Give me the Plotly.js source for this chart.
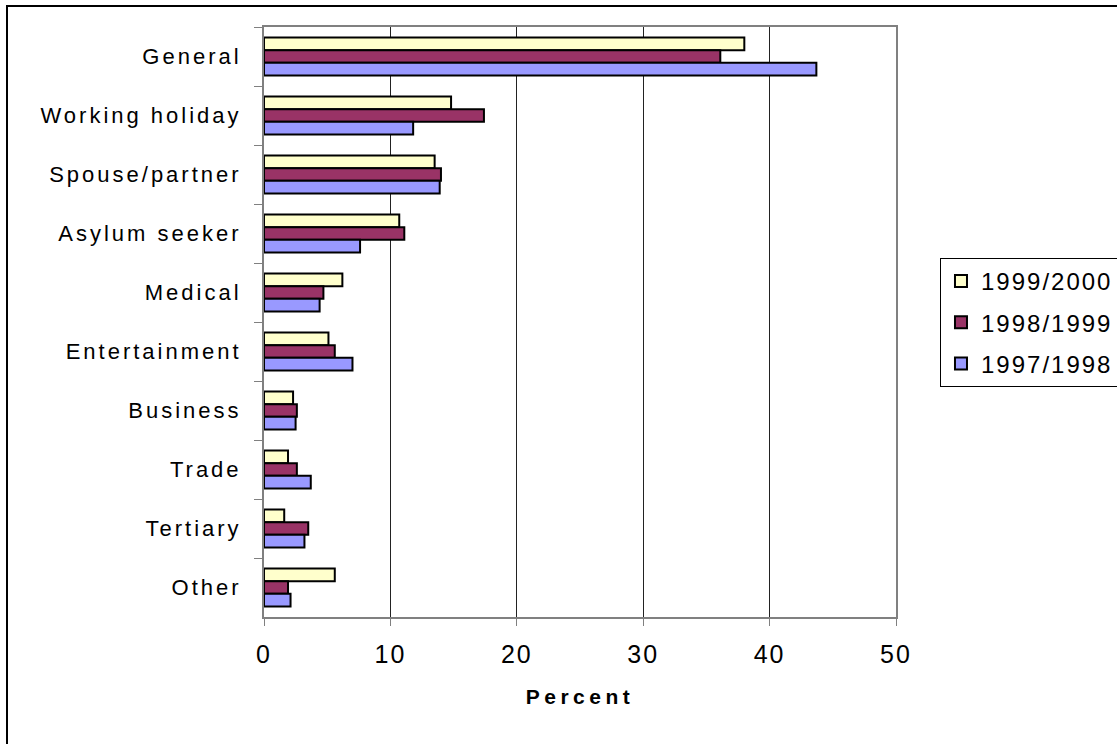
<!DOCTYPE html>
<html>
<head>
<meta charset="utf-8">
<script src="https://cdn.plot.ly/plotly-3.0.1.min.js"></script>
<style>
  html, body { margin: 0; padding: 0; background: #fff; overflow: hidden; }
  #wrap { position: relative; width: 1117px; height: 744px; }
  #frame { position: absolute; left: 6px; top: 5px; width: 1200px; height: 800px;
           border: 2px solid #000; box-sizing: border-box; pointer-events: none; }
  #chart { position: absolute; left: 0; top: 0; width: 1117px; height: 744px; }
  .ytick text { letter-spacing: 3px; }
  .xtick text { letter-spacing: 2px; }
  .xtitle { letter-spacing: 4.5px; }
  .legendtext { letter-spacing: 2px; }
</style>
</head>
<body>
<div id="wrap">
  <div id="chart"></div>
  <div id="frame"></div>
</div>
<script>
// Visa categories, top to bottom
const categories = [
  "General", "Working holiday", "Spouse/partner", "Asylum seeker", "Medical",
  "Entertainment", "Business", "Trade", "Tertiary", "Other"
];

// Share of visas (percent) per year
const years = ["1999/2000", "1998/1999", "1997/1998"];
const values1999_2000 = [38.0, 14.8, 13.5, 10.7, 6.2, 5.1, 2.3, 1.9, 1.6, 5.6];
const values1998_1999 = [36.1, 17.4, 14.0, 11.1, 4.7, 5.6, 2.6, 2.6, 3.5, 1.9];
const values1997_1998 = [43.7, 11.8, 13.9, 7.6, 4.4, 7.0, 2.5, 3.7, 3.2, 2.1];

const xTicks = [0, 10, 20, 30, 40, 50];

const seriesValues = [values1999_2000, values1998_1999, values1997_1998];
const seriesColors = ["#FFFFCC", "#993366", "#9999FF"];

const FONT = "Liberation Sans, Arial, sans-serif";

const traces = years.map((yr, i) => ({
  type: "bar",
  orientation: "h",
  name: yr,
  legendgroup: yr,
  y: categories,
  x: seriesValues[i],
  marker: { color: seriesColors[i], line: { color: "#000", width: 2 } },
  hoverinfo: "x+y+name"
}));

const layout = {
  width: 1117,
  height: 744,
  margin: { l: 264, r: 221, t: 27, b: 127, pad: 0, autoexpand: false },
  paper_bgcolor: "rgba(0,0,0,0)",
  plot_bgcolor: "#fff",
  barmode: "group",
  bargap: 0.36,
  bargroupgap: 0,
  font: { family: FONT, color: "#000" },
  xaxis: {
    range: [0, 50],
    tickvals: xTicks,
    ticktext: xTicks.map(String),
    ticks: "outside",
    ticklen: 7,
    tickcolor: "#808080",
    tickfont: { family: FONT, size: 25, color: "#000" },
    ticklabelstandoff: 7,
    showgrid: true,
    gridcolor: "#222",
    gridwidth: 1,
    showline: true,
    linecolor: "#808080",
    linewidth: 2,
    mirror: true,
    zeroline: false,
    automargin: false,
    title: { text: "Percent", font: { family: FONT, size: 21, weight: "bold", color: "#000" }, standoff: 22 }
  },
  yaxis: {
    type: "category",
    categoryorder: "array",
    categoryarray: categories,
    autorange: "reversed",
    ticks: "outside",
    tickson: "boundaries",
    ticklen: 8,
    tickcolor: "#808080",
    tickfont: { family: FONT, size: 22, color: "#000" },
    ticklabelstandoff: 16,
    showgrid: false,
    showline: true,
    linecolor: "#808080",
    linewidth: 2,
    mirror: true,
    zeroline: false,
    automargin: false
  },
  legend: {
    x: 1.0696,
    y: 0.6085,
    xanchor: "left",
    yanchor: "top",
    traceorder: "grouped",
    tracegroupgap: 7,
    bordercolor: "#000",
    borderwidth: 1,
    bgcolor: "#fff",
    font: { family: FONT, size: 24, color: "#000" }
  },
  showlegend: true
};

Plotly.newPlot("chart", traces, layout, { displayModeBar: false, staticPlot: true });
</script>
</body>
</html>
